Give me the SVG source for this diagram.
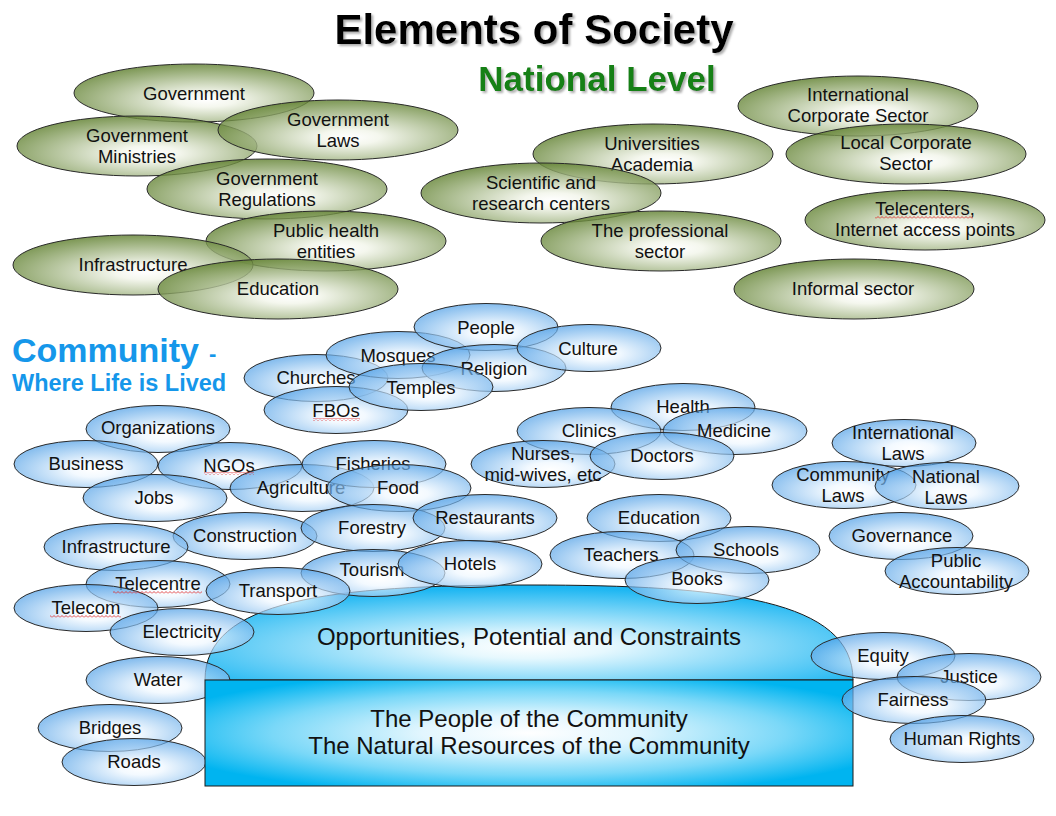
<svg xmlns="http://www.w3.org/2000/svg" width="1056" height="816" viewBox="0 0 1056 816">
<style>
  .lbl { font-family: "Liberation Sans", Arial, sans-serif; font-size: 18.5px; fill: #111; text-anchor: middle; }
  .big { font-family: "Liberation Sans", Arial, sans-serif; font-size: 24px; fill: #111; text-anchor: middle; }
  .ge { fill: url(#gGreen); fill-opacity: 0.82; stroke: #2a2a2a; stroke-width: 1; }
  .be { fill: url(#gBlue); fill-opacity: 0.7; stroke: #2a2a2a; stroke-width: 1; }
  .hd { font-family: "Liberation Sans", Arial, sans-serif; font-weight: bold; }
  .wave { fill: url(#wavePat); }
</style>
<defs>
  <radialGradient id="gGreen" cx="0.55" cy="0.62" r="0.62" fx="0.55" fy="0.62">
    <stop offset="0" stop-color="#ffffff"/>
    <stop offset="0.2" stop-color="#f2f5ea"/>
    <stop offset="1" stop-color="#628232"/>
  </radialGradient>
  <radialGradient id="gBlue" cx="0.55" cy="0.62" r="0.62" fx="0.55" fy="0.62">
    <stop offset="0" stop-color="#ffffff"/>
    <stop offset="0.25" stop-color="#eef7ff"/>
    <stop offset="1" stop-color="#4f9fe6"/>
  </radialGradient>
  <radialGradient id="gDome" cx="0.5" cy="0.65" r="0.62">
    <stop offset="0" stop-color="#ffffff"/>
    <stop offset="0.2" stop-color="#e6f8fe"/>
    <stop offset="1" stop-color="#1cb6f2"/>
  </radialGradient>
  <radialGradient id="gRect" cx="0.5" cy="0.5" r="0.66">
    <stop offset="0" stop-color="#ffffff"/>
    <stop offset="0.25" stop-color="#e2f6fe"/>
    <stop offset="0.6" stop-color="#7ad8f8"/>
    <stop offset="0.9" stop-color="#00b4f0"/>
  </radialGradient>
  <filter id="shadow" x="-5%" y="-20%" width="115%" height="150%">
    <feDropShadow dx="2" dy="2" stdDeviation="1" flood-color="#9a9a9a" flood-opacity="0.8"/>
  </filter>
  <pattern id="wavePat" width="4" height="3" patternUnits="userSpaceOnUse">
    <path d="M0,2.5 L2,0.5 L4,2.5" fill="none" stroke="#e02020" stroke-width="0.8"/>
  </pattern>
</defs>

<rect width="1056" height="816" fill="#ffffff"/>

<g id="titles">
  <text class="hd" x="534" y="44" font-size="42" fill="#000" text-anchor="middle" filter="url(#shadow)">Elements of Society</text>
  <text class="hd" x="597" y="91" font-size="35" fill="#128012" text-anchor="middle" filter="url(#shadow)">National Level</text>
  <text class="hd" x="12" y="362" font-size="34" fill="#1597ea">Community</text>
  <text class="hd" x="209" y="361" font-size="22" fill="#1597ea">-</text>
  <text class="hd" x="12" y="391" font-size="23.5" fill="#1597ea">Where Life is Lived</text>
</g>

<!-- National level (green) nodes -->
<g id="n-government"><ellipse class="ge" cx="194" cy="93" rx="120" ry="29"/><text class="lbl" x="194" y="99.5">Government</text></g>
<g id="n-gov-ministries"><ellipse class="ge" cx="137" cy="146" rx="120" ry="30"/><text class="lbl" x="137" y="141.5">Government</text><text class="lbl" x="137" y="162.5">Ministries</text></g>
<g id="n-gov-laws"><ellipse class="ge" cx="338" cy="130" rx="120" ry="30"/><text class="lbl" x="338" y="125.5">Government</text><text class="lbl" x="338" y="146.5">Laws</text></g>
<g id="n-gov-regulations"><ellipse class="ge" cx="267" cy="189" rx="120" ry="30"/><text class="lbl" x="267" y="184.5">Government</text><text class="lbl" x="267" y="205.5">Regulations</text></g>
<g id="n-public-health"><ellipse class="ge" cx="326" cy="241" rx="120" ry="30"/><text class="lbl" x="326" y="236.5">Public health</text><text class="lbl" x="326" y="257.5">entities</text></g>
<g id="n-infrastructure-nat"><ellipse class="ge" cx="133" cy="265" rx="120" ry="30"/><text class="lbl" x="133" y="270.5">Infrastructure</text></g>
<g id="n-education-nat"><ellipse class="ge" cx="278" cy="289" rx="120" ry="30"/><text class="lbl" x="278" y="294.5">Education</text></g>
<g id="n-universities"><ellipse class="ge" cx="653" cy="154" rx="120" ry="30"/><text class="lbl" x="652" y="149.5">Universities</text><text class="lbl" x="652" y="170.5">Academia</text></g>
<g id="n-scientific"><ellipse class="ge" cx="541" cy="193" rx="120" ry="30"/><text class="lbl" x="541" y="188.5">Scientific and</text><text class="lbl" x="541" y="209.5">research centers</text></g>
<g id="n-professional"><ellipse class="ge" cx="661" cy="241" rx="120" ry="30"/><text class="lbl" x="660" y="236.5">The professional</text><text class="lbl" x="660" y="257.5">sector</text></g>
<g id="n-intl-corporate"><ellipse class="ge" cx="858" cy="106" rx="120" ry="30"/><text class="lbl" x="858" y="101">International</text><text class="lbl" x="858" y="122">Corporate Sector</text></g>
<g id="n-local-corporate"><ellipse class="ge" cx="906" cy="154" rx="120" ry="30"/><text class="lbl" x="906" y="148.5">Local Corporate</text><text class="lbl" x="906" y="169.5">Sector</text></g>
<g id="n-telecenters"><ellipse class="ge" cx="925" cy="220" rx="120" ry="30"/><text class="lbl" x="925" y="214.5">Telecenters,</text><text class="lbl" x="925" y="235.5">Internet access points</text></g>
<g id="n-informal"><ellipse class="ge" cx="854" cy="289" rx="120" ry="30"/><text class="lbl" x="853" y="294.5">Informal sector</text></g>

<!-- Base dome -->
<g id="n-opportunities">
  <path d="M205,680 C205,600 330,585 529,585 C728,585 853,600 853,680 Z" fill="url(#gDome)" stroke="#1a1a1a" stroke-width="1"/>
  <text class="big" x="529" y="645">Opportunities, Potential and Constraints</text>
</g>

<!-- Community (blue) nodes -->
<g id="n-churches"><ellipse class="be" cx="316" cy="378" rx="72" ry="23.5"/><text class="lbl" x="316" y="383.5">Churches</text></g>
<g id="n-fbos"><ellipse class="be" cx="336" cy="410" rx="72" ry="23.5"/><text class="lbl" x="336" y="416.5">FBOs</text></g>
<g id="n-mosques"><ellipse class="be" cx="398" cy="355" rx="72" ry="23.5"/><text class="lbl" x="398" y="361.5">Mosques</text></g>
<g id="n-people"><ellipse class="be" cx="486" cy="327" rx="72" ry="23.5"/><text class="lbl" x="486" y="333.5">People</text></g>
<g id="n-religion"><ellipse class="be" cx="494" cy="368" rx="72" ry="23.5"/><text class="lbl" x="494" y="374.5">Religion</text></g>
<g id="n-culture"><ellipse class="be" cx="589" cy="348" rx="72" ry="23.5"/><text class="lbl" x="588" y="354.5">Culture</text></g>
<g id="n-temples"><ellipse class="be" cx="421" cy="387" rx="72" ry="23.5"/><text class="lbl" x="421" y="393.5">Temples</text></g>

<g id="n-organizations"><ellipse class="be" cx="158" cy="429" rx="72" ry="23.5"/><text class="lbl" x="158" y="434">Organizations</text></g>
<g id="n-business"><ellipse class="be" cx="86" cy="464" rx="72" ry="23.5"/><text class="lbl" x="86" y="470">Business</text></g>
<g id="n-ngos"><ellipse class="be" cx="230" cy="466" rx="72" ry="23.5"/><text class="lbl" x="229" y="472">NGOs</text></g>
<g id="n-jobs"><ellipse class="be" cx="155" cy="498" rx="72" ry="23.5"/><text class="lbl" x="154" y="503.5">Jobs</text></g>
<g id="n-agriculture"><ellipse class="be" cx="302" cy="488" rx="72" ry="23.5"/><text class="lbl" x="301" y="494">Agriculture</text></g>
<g id="n-fisheries"><ellipse class="be" cx="374" cy="464" rx="72" ry="23.5"/><text class="lbl" x="373" y="470">Fisheries</text></g>
<g id="n-food"><ellipse class="be" cx="399" cy="488" rx="72" ry="23.5"/><text class="lbl" x="398" y="494">Food</text></g>
<g id="n-construction"><ellipse class="be" cx="245" cy="536" rx="72" ry="23.5"/><text class="lbl" x="245" y="542">Construction</text></g>
<g id="n-infrastructure"><ellipse class="be" cx="116" cy="547" rx="72" ry="23.5"/><text class="lbl" x="116" y="553">Infrastructure</text></g>
<g id="n-forestry"><ellipse class="be" cx="373" cy="528" rx="72" ry="23.5"/><text class="lbl" x="372" y="534">Forestry</text></g>
<g id="n-restaurants"><ellipse class="be" cx="485" cy="518" rx="72" ry="23.5"/><text class="lbl" x="485" y="524">Restaurants</text></g>
<g id="n-tourism"><ellipse class="be" cx="373" cy="573" rx="72" ry="23.5"/><text class="lbl" x="372" y="576">Tourism</text></g>
<g id="n-hotels"><ellipse class="be" cx="470" cy="564" rx="72" ry="23.5"/><text class="lbl" x="470" y="570">Hotels</text></g>
<g id="n-telecentre"><ellipse class="be" cx="158" cy="584" rx="72" ry="23.5"/><text class="lbl" x="158" y="590">Telecentre</text></g>
<g id="n-transport"><ellipse class="be" cx="278" cy="591" rx="72" ry="23.5"/><text class="lbl" x="278" y="597">Transport</text></g>
<g id="n-telecom"><ellipse class="be" cx="86" cy="608" rx="72" ry="23.5"/><text class="lbl" x="86" y="614">Telecom</text></g>
<g id="n-electricity"><ellipse class="be" cx="182" cy="632" rx="72" ry="23.5"/><text class="lbl" x="182" y="638">Electricity</text></g>
<g id="n-water"><ellipse class="be" cx="158" cy="680" rx="72" ry="23.5"/><text class="lbl" x="158" y="686">Water</text></g>
<g id="n-bridges"><ellipse class="be" cx="110" cy="728" rx="72" ry="23.5"/><text class="lbl" x="110" y="734">Bridges</text></g>
<g id="n-roads"><ellipse class="be" cx="134" cy="762" rx="72" ry="23.5"/><text class="lbl" x="134" y="768">Roads</text></g>

<g id="n-health"><ellipse class="be" cx="683" cy="407" rx="72" ry="23.5"/><text class="lbl" x="683" y="413">Health</text></g>
<g id="n-clinics"><ellipse class="be" cx="589" cy="431" rx="72" ry="23.5"/><text class="lbl" x="589" y="437">Clinics</text></g>
<g id="n-medicine"><ellipse class="be" cx="735" cy="431" rx="72" ry="23.5"/><text class="lbl" x="734" y="437">Medicine</text></g>
<g id="n-nurses"><ellipse class="be" cx="543" cy="464" rx="72" ry="23.5"/><text class="lbl" x="543" y="460">Nurses,</text><text class="lbl" x="543" y="481">mid-wives, etc</text></g>
<g id="n-doctors"><ellipse class="be" cx="662" cy="456" rx="72" ry="23.5"/><text class="lbl" x="662" y="461.5">Doctors</text></g>

<g id="n-education"><ellipse class="be" cx="659" cy="518" rx="72" ry="23.5"/><text class="lbl" x="659" y="524">Education</text></g>
<g id="n-teachers"><ellipse class="be" cx="622" cy="555" rx="72" ry="23.5"/><text class="lbl" x="621" y="561">Teachers</text></g>
<g id="n-schools"><ellipse class="be" cx="748" cy="550" rx="72" ry="23.5"/><text class="lbl" x="746" y="556">Schools</text></g>
<g id="n-books"><ellipse class="be" cx="697" cy="580" rx="72" ry="23.5"/><text class="lbl" x="697" y="585">Books</text></g>

<g id="n-intl-laws"><ellipse class="be" cx="904" cy="443" rx="72" ry="23.5"/><text class="lbl" x="903" y="438.5">International</text><text class="lbl" x="903" y="459.5">Laws</text></g>
<g id="n-community-laws"><ellipse class="be" cx="844" cy="485" rx="72" ry="23.5"/><text class="lbl" x="843" y="480.5">Community</text><text class="lbl" x="843" y="501.5">Laws</text></g>
<g id="n-national-laws"><ellipse class="be" cx="947" cy="486" rx="72" ry="23.5"/><text class="lbl" x="946" y="482.5">National</text><text class="lbl" x="946" y="503.5">Laws</text></g>
<g id="n-governance"><ellipse class="be" cx="901" cy="536" rx="72" ry="23.5"/><text class="lbl" x="902" y="541.5">Governance</text></g>
<g id="n-public-accountability"><ellipse class="be" cx="957" cy="571" rx="72" ry="23.5"/><text class="lbl" x="956" y="566.5">Public</text><text class="lbl" x="956" y="587.5">Accountability</text></g>

<!-- Base rectangle -->
<g id="n-people-resources">
  <rect x="205" y="680" width="648" height="106" fill="url(#gRect)" stroke="#1a1a1a" stroke-width="1"/>
  <text class="big" x="529" y="727">The People of the Community</text>
  <text class="big" x="529" y="754">The Natural Resources of the Community</text>
</g>

<g id="n-equity"><ellipse class="be" cx="883" cy="656" rx="72" ry="23.5"/><text class="lbl" x="883" y="662">Equity</text></g>
<g id="n-justice"><ellipse class="be" cx="969" cy="677" rx="72" ry="23.5"/><text class="lbl" x="969" y="683">Justice</text></g>
<g id="n-fairness"><ellipse class="be" cx="914" cy="700" rx="72" ry="23.5"/><text class="lbl" x="913" y="706">Fairness</text></g>
<g id="n-human-rights"><ellipse class="be" cx="962" cy="739" rx="72" ry="23.5"/><text class="lbl" x="962" y="745">Human Rights</text></g>

<g id="connectors"></g>

<g id="spellcheck-marks">
  <rect class="wave" x="875" y="216" width="98" height="3"/>
  <rect class="wave" x="313" y="418" width="47" height="3"/>
  <rect class="wave" x="204" y="472" width="50" height="3"/>
  <rect class="wave" x="113" y="591" width="89" height="3"/>
  <rect class="wave" x="50" y="615" width="71" height="3"/>
</g>
</svg>
